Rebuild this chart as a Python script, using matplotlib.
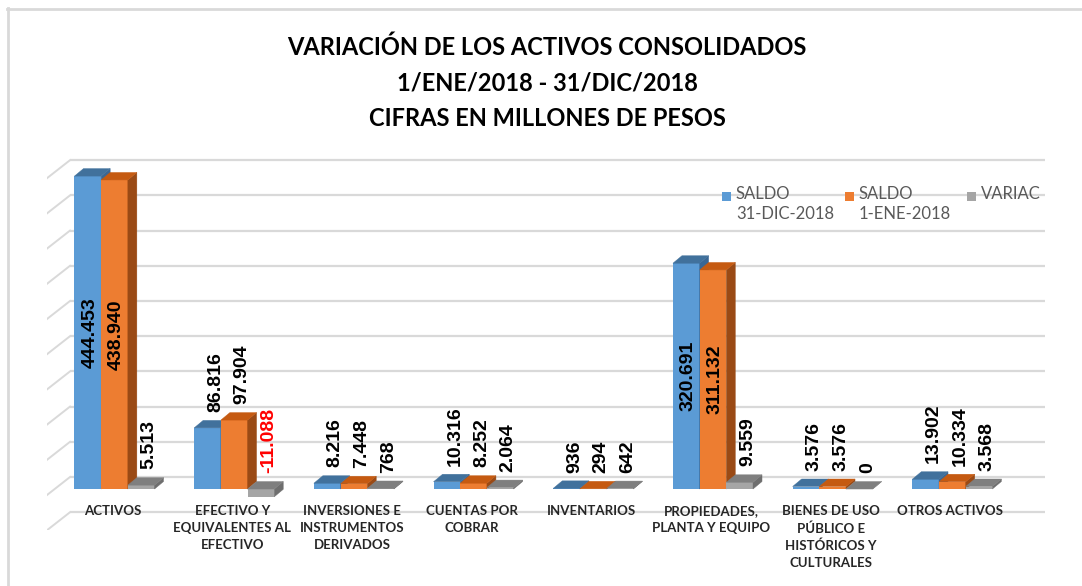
import matplotlib.pyplot as plt
from matplotlib.patches import Polygon, Rectangle
import numpy as np

#Chart data (millions of pesos)
categories = ["ACTIVOS", "EFECTIVO Y\nEQUIVALENTES AL\nEFECTIVO", "INVERSIONES E\nINSTRUMENTOS\nDERIVADOS",
              "CUENTAS POR\nCOBRAR", "INVENTARIOS", "PROPIEDADES,\nPLANTA Y EQUIPO",
              "BIENES DE USO\nPÚBLICO E\nHISTÓRICOS Y\nCULTURALES", "OTROS ACTIVOS"]
saldoDic = [444453, 86816, 8216, 10316, 936, 320691, 3576, 13902]
saldoEne = [438940, 97904, 7448, 8252, 294, 311132, 3576, 10334]
variacion = [5513, -11088, 768, 2064, 642, 9559, 0, 3568]
seriesNames = ["SALDO\n31-DIC-2018", "SALDO\n1-ENE-2018", "VARIAC"]
titleLines = ["VARIACIÓN DE LOS ACTIVOS CONSOLIDADOS", "1/ENE/2018 - 31/DIC/2018", "CIFRAS EN MILLONES DE PESOS"]
gridValues = np.arange(-50000, 450001, 50000)

#Styles
frontColors = ['#5B9BD5', '#ED7D31', '#A5A5A5']
topColors = ['#41719C', '#C55A11', '#7F7F7F']
sideColors = ['#3A6794', '#9A4A15', '#6E6E6E']

W, H = 1082, 586
fig = plt.figure(figsize=(W / 100, H / 100), dpi=100)
fig.patch.set_facecolor('white')

#Axes placed in pixels of the figure
axLeft, axRight, axTop, axBottom = 47, 1045, 150, 530
ax = fig.add_axes([axLeft / W, (H - axBottom) / H, (axRight - axLeft) / W, (axBottom - axTop) / H])
xmin, xmax = -0.564, 7.774
ymin, ymax = -58200, 481500
ax.set_xlim(xmin, xmax)
ax.set_ylim(ymin, ymax)
ax.axis('off')

xPerPx = (xmax - xmin) / (axRight - axLeft)
yPerPx = (ymax - ymin) / (axBottom - axTop)
depthX = 9 * xPerPx
depthY = 7.5 * yPerPx
backOffset = 12 * yPerPx
wallX = xmin + 23 * xPerPx

#Back wall grid lines with the floor diagonal on the left
for g in gridValues:
    gy = g + backOffset
    ax.plot([wallX, xmax], [gy, gy], color='#D9D9D9', lw=1.6, zorder=1, solid_capstyle='butt')
    ax.plot([xmin, wallX], [gy - 18 * yPerPx, gy], color='#D9D9D9', lw=1.4, zorder=1)

def fmt(v):
    return ('-' if v < 0 else '') + '{:,}'.format(abs(v)).replace(',', '.')

x = np.arange(len(categories))
barW = 0.223
seriesData = [saldoDic, saldoEne, variacion]
for s, vals in enumerate(seriesData):
    xs = x + (s - 1) * barW
    z = 3 + s
    ax.bar(xs, vals, width=barW, color=frontColors[s], zorder=z, linewidth=0)
    for xc, v in zip(xs, vals):
        lo, hi = min(v, 0), max(v, 0)
        x0, x1 = xc - barW / 2, xc + barW / 2
        ax.add_patch(Polygon([(x1, lo), (x1 + depthX, lo + depthY), (x1 + depthX, hi + depthY), (x1, hi)],
                             closed=True, facecolor=sideColors[s], edgecolor=sideColors[s], lw=0.3, zorder=z))
        ax.add_patch(Polygon([(x0, hi), (x1, hi), (x1 + depthX, hi + depthY), (x0 + depthX, hi + depthY)],
                             closed=True, facecolor=topColors[s], edgecolor=topColors[s], lw=0.3, zorder=z))
        #Data labels
        if v > 300000:
            ax.text(xc + 2 * xPerPx, v / 2, fmt(v), rotation=90, ha='center', va='center',
                    fontsize=14, family='Liberation Sans', fontweight='bold', color='black', zorder=10)
        else:
            ax.annotate(fmt(v), (xc + 8 * xPerPx, hi + depthY), xytext=(0, 6), textcoords='offset points',
                        rotation=90, ha='center', va='bottom', fontsize=14, family='Liberation Sans',
                        fontweight='bold', color='red' if v < 0 else 'black', zorder=10)

#Category labels
for i, name in enumerate(categories):
    ax.text(i - 2 * xPerPx, -16 * yPerPx, name, ha='center', va='top', fontsize=9.5, family='Lato',
            fontweight='bold', color='#262626', linespacing=1.48, zorder=10)

#Title
for j, line in enumerate(titleLines):
    fig.text(547 / W, 1 - (47 + 36 * j) / H, line, ha='center', va='center', fontsize=17,
             family='Lato', fontweight='bold', color='black')

#Legend drawn by hand, markers aligned to the first line
legendX = [722, 845, 967]
for s, name in enumerate(seriesNames):
    fig.patches.append(Rectangle((legendX[s] / W, 1 - 201 / H), 9 / W, 9 / H, transform=fig.transFigure,
                                 facecolor=frontColors[s], edgecolor='none'))
    fig.text((legendX[s] + 14) / W, 1 - 186 / H, name, ha='left', va='top', fontsize=12, family='Lato',
             color='#595959', linespacing=1.3)

#Chart border
fig.add_artist(plt.Line2D([7 / W, 1], [1 - 8.5 / H, 1 - 8.5 / H], transform=fig.transFigure, color='#D9D9D9', lw=2))
fig.add_artist(plt.Line2D([7.5 / W, 7.5 / W], [0, 1 - 8 / H], transform=fig.transFigure, color='#D9D9D9', lw=2))

fig.savefig('out.png', dpi=100)
